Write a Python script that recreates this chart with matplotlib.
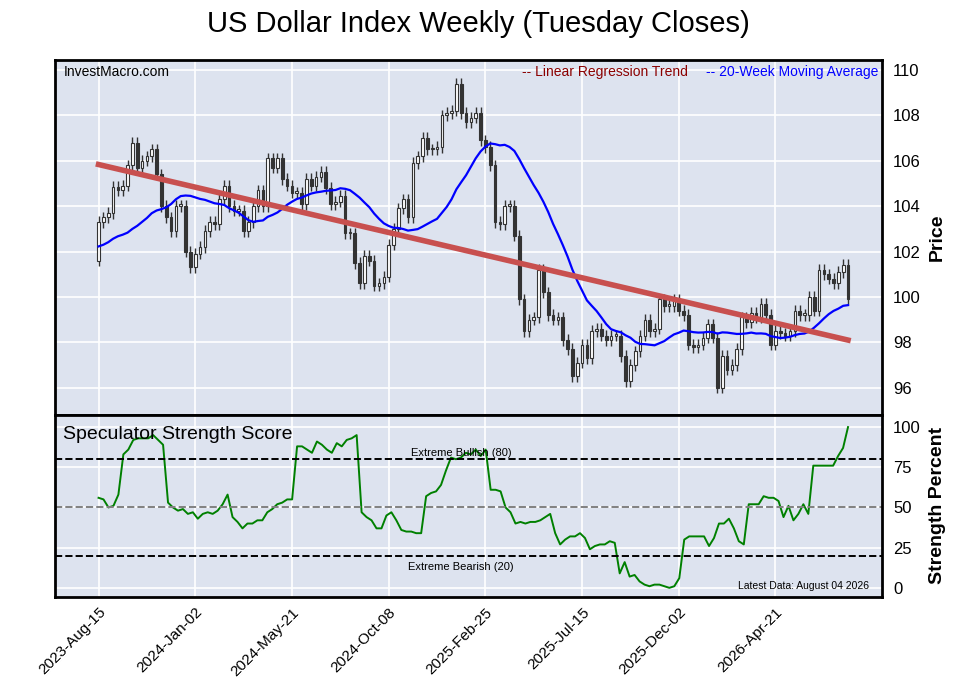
import numpy as np
import matplotlib.pyplot as plt

prior_closes = [102.0, 101.5, 101.8, 102.5, 103.5, 104.0, 103.5, 103.0, 102.5, 102.8,
                102.3, 103.0, 102.8, 101.9, 100.0, 99.8, 101.2, 101.5, 101.6]
closes = [103.3, 103.5, 103.7, 104.85, 104.7, 104.9, 105.8, 106.8, 105.7, 106.0,
          106.2, 106.5, 105.4, 104.0, 103.5, 102.9, 104.0, 104.0, 102.0, 101.3,
          101.9, 102.2, 102.9, 103.3, 103.2, 104.3, 104.9, 104.0, 103.8, 103.8,
          102.9, 103.3, 104.0, 104.7, 104.0, 106.1, 105.7, 106.1, 105.2, 104.9,
          104.6, 104.6, 104.1, 105.2, 104.9, 105.3, 105.5, 104.8, 104.1, 104.2,
          104.45, 102.8, 102.8, 101.5, 100.6, 101.8, 101.6, 100.5, 100.6, 100.9,
          102.3, 103.0, 103.9, 104.3, 103.5, 105.9, 106.2, 107.0, 106.5, 106.5,
          106.6, 108.0, 108.1, 108.2, 109.4, 108.1, 107.7, 107.9, 108.1, 106.9,
          106.6, 105.8, 103.3, 103.2, 104.0, 104.0, 102.7, 99.9, 98.5, 99.0,
          99.1, 101.2, 100.2, 99.2, 99.0, 99.1, 98.1, 97.7, 96.5, 97.1,
          97.9, 97.3, 98.5, 98.6, 98.3, 98.1, 98.3, 98.3, 97.4, 96.3,
          97.0, 97.6, 98.3, 99.0, 98.5, 98.6, 99.9, 99.6, 99.6, 99.9,
          99.4, 99.2, 97.9, 97.8, 97.9, 98.2, 98.8, 98.2, 96.0, 97.4,
          96.8, 97.0, 97.7, 99.1, 98.9, 99.3, 99.1, 99.7, 99.2, 97.9,
          98.5, 98.4, 98.3, 98.5, 99.4, 99.2, 99.2, 100.0, 99.4, 101.2,
          101.0, 100.8, 100.6, 101.1, 101.4, 99.9]
strength = [56, 55, 50, 51, 58, 83, 86, 92, 93, 93, 93, 95, 92, 89, 53, 50, 48, 49, 46, 47,
            43, 46, 47, 46, 48, 52, 58, 44, 41, 37, 40, 40, 42, 42, 47, 49, 52, 53, 55, 55,
            88, 88, 86, 84, 91, 89, 86, 84, 90, 88, 92, 93, 95, 47, 44, 42, 37, 37, 45, 47,
            42, 36, 35, 35, 34, 34, 57, 59, 60, 64, 73, 81, 80, 81, 84, 83, 86, 82, 86, 61,
            61, 60, 50, 47, 40, 41, 40, 41, 41, 42, 44, 46, 34, 27, 30, 32, 32, 34, 31, 24,
            26, 27, 27, 29, 28, 9, 16, 7, 8, 4, 2, 1, 2, 2, 1, 0, 1, 6, 30, 32,
            32, 32, 32, 26, 31, 40, 40, 43, 37, 29, 27, 52, 52, 52, 57, 56, 56, 54, 44, 51,
            42, 46, 52, 46, 76, 76, 76, 76, 76, 82, 87, 100]
tick_labels = ['2023-Aug-15', '2024-Jan-02', '2024-May-21', '2024-Oct-08',
               '2025-Feb-25', '2025-Jul-15', '2025-Dec-02', '2026-Apr-21']

plt.rcParams['font.family'] = ['Liberation Sans', 'DejaVu Sans']
BG = '#dde3ef'


def style_axes(ax):
    ax.set_facecolor(BG)
    ax.grid(True, color='white', linewidth=1.2)
    ax.set_axisbelow(True)
    for s in ax.spines.values():
        s.set_linewidth(2)
        s.set_color('black')
    ax.yaxis.tick_right()
    ax.yaxis.set_label_position('right')
    ax.tick_params(axis='y', labelsize=12, length=0, pad=8)


def price_panel(ax):
    c = np.array(closes)
    o = np.array([prior_closes[-1]] + closes[:-1])
    x = np.arange(len(c))
    hi = np.maximum(o, c) + 0.25  # wick above body
    lo = np.minimum(o, c) - 0.25
    up = c >= o
    ax.vlines(x, lo, hi, color='#333333', linewidth=1, zorder=2)
    body = np.maximum(np.abs(c - o), 0.08)
    ax.bar(x[up], body[up], bottom=o[up], width=0.55, color='white',
           edgecolor='#333333', linewidth=0.8, zorder=3)
    ax.bar(x[~up], body[~up], bottom=c[~up], width=0.55, color='#333333',
           edgecolor='#333333', linewidth=0.8, zorder=3)
    ma = np.convolve(np.array(prior_closes + closes), np.ones(20) / 20, mode='valid')
    ax.plot(x, ma, color='blue', linewidth=1.6, zorder=4)
    k, b = np.polyfit(x, c, 1)
    ax.plot(x, k * x + b, color='#c8504f', linewidth=4, zorder=4)
    ax.set_ylim(94.8, 110.45)
    ax.set_yticks([96, 98, 100, 102, 104, 106, 108, 110])
    ax.set_ylabel('Price', fontsize=14, fontweight='bold', labelpad=6)
    ax.text(0.01, 0.985, 'InvestMacro.com', transform=ax.transAxes, fontsize=10, va='top')
    ax.text(0.565, 0.985, '-- Linear Regression Trend', transform=ax.transAxes,
            fontsize=10, va='top', color='darkred')
    ax.text(0.787, 0.985, '-- 20-Week Moving Average', transform=ax.transAxes,
            fontsize=10, va='top', color='blue')


def strength_panel(ax):
    xs = np.linspace(0, len(closes) - 1, len(strength))
    ax.plot(xs, strength, color='green', linewidth=1.4)
    ax.axhline(80, color='black', linestyle='--', linewidth=1.4)
    ax.axhline(50, color='gray', linestyle='--', linewidth=1.4)
    ax.axhline(20, color='black', linestyle='--', linewidth=1.4)
    ax.text(75, 82, 'Extreme Bullish (80)', fontsize=8, ha='center')
    ax.text(75, 11, 'Extreme Bearish (20)', fontsize=8, ha='center')
    ax.text(0.01, 0.94, 'Speculator Strength Score', transform=ax.transAxes,
            fontsize=14, va='top')
    ax.text(0.985, 0.03, 'Latest Data: August 04 2026', transform=ax.transAxes,
            fontsize=7.5, ha='right', va='bottom')
    ax.set_ylim(-5.6, 107.5)
    ax.set_yticks([0, 25, 50, 75, 100])
    ax.set_ylabel('Strength Percent', fontsize=14, fontweight='bold', labelpad=6)
    ax.set_xticks(np.arange(0, 160, 20))
    ax.set_xticklabels(tick_labels, rotation=45, ha='right', rotation_mode='anchor', fontsize=11)
    ax.tick_params(axis='x', length=0, pad=6)


def main():
    fig = plt.figure(figsize=(9.57, 6.94), dpi=100)
    ax1 = fig.add_axes([0.0575, 0.402, 0.864, 0.512])
    ax2 = fig.add_axes([0.0575, 0.14, 0.864, 0.262], sharex=ax1)
    style_axes(ax1)
    style_axes(ax2)
    price_panel(ax1)
    strength_panel(ax2)
    plt.setp(ax1.get_xticklabels(), visible=False)
    ax1.tick_params(axis='x', length=0)
    ax1.set_xlim(-9, 162)
    fig.suptitle('US Dollar Index Weekly (Tuesday Closes)', fontsize=21, y=0.985)
    fig.savefig('out.png', dpi=100)


main()
